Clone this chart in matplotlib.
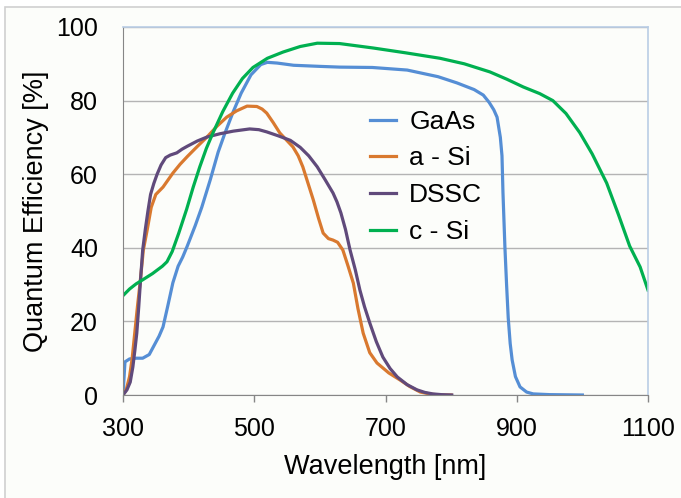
import matplotlib.pyplot as plt
from matplotlib.patches import Rectangle

plt.rcParams['font.family'] = ['Liberation Sans', 'DejaVu Sans']

# GaAs
gaas_wl = [300, 303, 310, 320, 330, 340, 346, 355, 361, 368, 376, 384, 391, 398, 410, 420,
           433, 445, 455, 468, 480, 495, 510, 520, 535, 560, 600, 630, 680, 733, 780, 809,
           835, 849, 858, 865, 870, 875, 877.5, 879, 882, 884.5, 887, 890, 893, 898, 905,
           915, 925, 950, 1000]
gaas_qe = [0, 9, 9.8, 10, 10, 11, 13, 16, 18.5, 24, 30.5, 35, 37.5, 40.5, 46, 51,
           58.5, 66, 71, 77, 82, 87, 89.8, 90.4, 90.2, 89.6, 89.3, 89.1, 89, 88.3, 86.5, 84.8,
           83, 81.5, 79.5, 77.5, 75.5, 70, 65, 55, 40, 30, 21, 14, 9.5, 5, 2.2,
           0.8, 0.3, 0.1, 0]

# a - Si
asi_wl = [300, 305, 310, 314, 318, 322, 326, 331, 337, 343, 350, 361, 376, 387, 398, 413,
          428, 443, 458, 473, 489, 504, 512, 519, 529, 539, 549, 559, 567, 574, 582, 590,
          598, 605, 613, 620, 627, 635, 643, 651, 658, 666, 676, 687, 705, 722, 737, 753,
          770, 783, 800]
asi_qe = [0, 1.5, 5, 10, 17, 24, 30.4, 39.4, 45, 51, 54.5, 56.5, 60.3, 62.7, 64.8, 67.5,
          70.1, 73, 75.5, 77.2, 78.5, 78.4, 77.7, 76.6, 74, 71.2, 69.3, 67.4, 65, 62, 57.5, 53,
          48, 44, 42.5, 42.1, 41.5, 39.4, 35, 30.4, 23.5, 16.8, 11.5, 8.7, 6, 4.1, 2.3, 0.8,
          0.2, 0, 0]

# DSSC
dssc_wl = [300, 306, 311, 315, 318, 321, 324, 327, 330, 334, 338, 342, 347, 352, 358, 365,
           372, 382, 390, 398, 413, 428, 448, 468, 493, 507, 519, 537, 555, 570, 583, 596,
           608, 620, 626, 632, 639, 646, 654, 661, 668, 676, 686, 696, 707, 718, 733, 748, 760,
           772, 785, 801]
dssc_qe = [0, 1.4, 3.5, 7.6, 12, 16.8, 24, 32, 39.4, 45, 50, 54.5, 57.5, 60, 62.5, 64.5,
           65.2, 65.8, 66.8, 67.6, 69, 70.1, 71, 71.7, 72.3, 72.1, 71.5, 70.4, 69.2, 67.3, 65, 62,
           58.5, 54.9, 52.5, 49.5, 45, 39.4, 34, 28.5, 24, 19.6, 14.5, 10.3, 7.2, 4.9, 2.8, 1.4,
           0.7, 0.3, 0.1, 0]

# c - Si
csi_wl = [300, 310, 320, 330, 345, 360, 367, 375, 385, 397, 407, 417, 427, 437, 452, 467,
          482, 498, 520, 544, 570, 596, 630, 681, 730, 783, 820, 859, 885, 910, 935, 955,
          975, 996, 1015, 1037, 1055, 1072, 1088, 1100]
csi_qe = [27, 28.8, 30.2, 31.3, 33, 35, 36.2, 39, 44, 50.5, 56.5, 62, 67, 71.2, 77, 82,
          86, 89, 91.5, 93.2, 94.7, 95.6, 95.5, 94.3, 93, 91.5, 90, 87.8, 85.8, 83.7, 81.9, 80,
          76.5, 71.3, 65.5, 57.6, 49, 40.5, 34.8, 28.5]

fig = plt.figure(figsize=(6.81, 4.98), dpi=100, facecolor='white')
fig.patches.append(Rectangle((5 / 681, -0.1), 1, 1.1 - 7 / 498, transform=fig.transFigure,
                             facecolor='#fcfdfa', edgecolor='#d0d0d0', lw=1.2, zorder=-5))
ax = fig.add_axes([123 / 681, 1 - 395 / 498, 525 / 681, 368 / 498])
ax.set_facecolor('#fcfdfa')

lw = 2.3
ax.plot(gaas_wl, gaas_qe, color='#558ed5', lw=lw, label='GaAs')
ax.plot(asi_wl, asi_qe, color='#d9792f', lw=lw, label='a - Si')
ax.plot(dssc_wl, dssc_qe, color='#604a7b', lw=lw, label='DSSC')
ax.plot(csi_wl, csi_qe, color='#00b050', lw=lw, label='c - Si')

ax.set_xlim(300, 1100)
ax.set_ylim(0, 100)
ax.set_xticks([300, 500, 700, 900, 1100])
ax.set_yticks(range(0, 101, 20))
ax.yaxis.grid(True, color='#b4b4b4', lw=1)
ax.set_axisbelow(True)
ax.tick_params(axis='y', length=0, pad=18, labelsize=18)
ax.tick_params(axis='x', length=5, width=1, color='#868686', pad=11, labelsize=18)
for s in ['left', 'bottom']:
    ax.spines[s].set_color('#868686')
for s in ['top', 'right']:
    ax.spines[s].set_color('#b9cde5')
    ax.spines[s].set_linewidth(1.2)

ax.set_xlabel('Wavelength [nm]', fontsize=19.5, labelpad=9)
ax.set_ylabel('Quantum Efficiency [%]', fontsize=19.5, labelpad=5)

ax.legend(loc='upper left', bbox_to_anchor=(0.47, 0.775), frameon=False, fontsize=19,
          handlelength=1.0, handletextpad=0.5, labelspacing=0.48, borderpad=0,
          borderaxespad=0)

fig.savefig('out.png', dpi=100, facecolor=fig.get_facecolor())
